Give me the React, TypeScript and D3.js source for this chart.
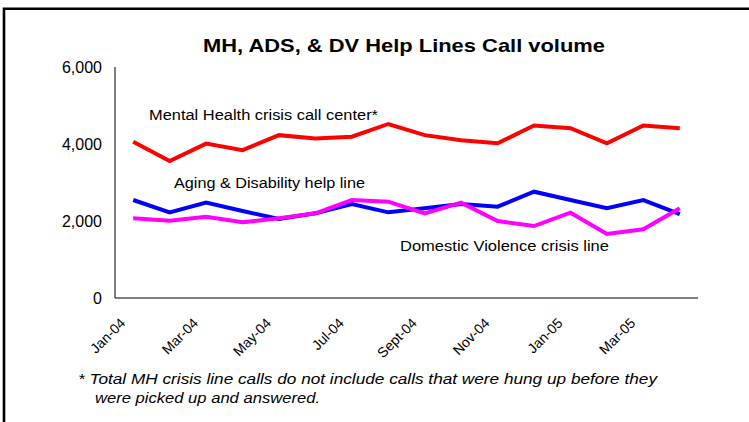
import React from "react";
import * as d3 from "d3";

const months = ["Jan-04","Feb-04","Mar-04","Apr-04","May-04","Jun-04","Jul-04","Aug-04","Sept-04","Oct-04","Nov-04","Dec-04","Jan-05","Feb-05","Mar-05","Apr-05"];
const tickLabels = ["Jan-04","Mar-04","May-04","Jul-04","Sept-04","Nov-04","Jan-05","Mar-05"];
const mhValues = [4060,3560,4010,3840,4230,4140,4190,4520,4230,4100,4020,4480,4410,4020,4480,4410];
const adsValues = [2545,2225,2476,2260,2052,2199,2441,2225,2330,2441,2372,2761,2545,2330,2545,2181];
const dvValues = [2069,2008,2112,1965,2069,2199,2545,2502,2199,2476,2000,1870,2216,1662,1784,2329];
const yTicks = [0,2000,4000,6000];

const series = [
  { name: "MH", values: mhValues, color: "#FF0000" },
  { name: "ADS", values: adsValues, color: "#0000FF" },
  { name: "DV", values: dvValues, color: "#FF00FF" },
];

const W = 749, H = 422;
const left = 115, right = 698, top = 67, bottom = 298;
const font = "'Liberation Sans', Arial, sans-serif";

export default function App() {
  const x = d3.scaleBand<string>().domain(months).range([left, right]);
  const y = d3.scaleLinear().domain([0, 6000]).range([bottom, top]);
  const line = d3.line<number>()
    .x((_, i) => (x(months[i]) as number) + x.bandwidth() / 2)
    .y((d) => y(d));
  const fmt = d3.format(",");
  const sp = "spacingAndGlyphs";
  return (
    <svg width={W} height={H} style={{ position: "absolute", left: 0, top: 0, background: "#fff" }} fontFamily={font}>
      <rect x={0} y={0} width={W} height={H} fill="#fff" />
      <path d={`M4,${H + 5} L4,8.7 L${W + 5},8.7`} fill="none" stroke="#000" strokeWidth={2.6} />
      <text x={203} y={52} fontSize={18.5} fontWeight="bold" textLength={402} lengthAdjust={sp}>
        MH, ADS, &amp; DV Help Lines Call volume
      </text>
      <line x1={left} y1={top} x2={left} y2={bottom} stroke="#000" strokeWidth={1} />
      <line x1={left} y1={bottom} x2={right} y2={bottom} stroke="#000" strokeWidth={1} />
      {yTicks.map((t) => (
        <text key={t} x={102} y={y(t)} dy="0.35em" textAnchor="end" fontSize={16}>{fmt(t)}</text>
      ))}
      {tickLabels.map((m) => {
        const cx = (x(m) as number) + x.bandwidth() / 2;
        return (
          <text key={m} transform={`translate(${cx - 7},${324}) rotate(-45)`} textAnchor="end" fontSize={14}>{m}</text>
        );
      })}
      {series.map((s) => (
        <path key={s.name} d={line(s.values) as string} fill="none" stroke={s.color} strokeWidth={4} strokeLinejoin="miter" />
      ))}
      <text x={149} y={120} fontSize={15.5} textLength={229} lengthAdjust={sp}>Mental Health crisis call center*</text>
      <text x={174} y={188} fontSize={15.5} textLength={191} lengthAdjust={sp}>Aging &amp; Disability help line</text>
      <text x={400} y={250.5} fontSize={15.5} textLength={209} lengthAdjust={sp}>Domestic Violence crisis line</text>
      <text x={78} y={384} fontSize={14} fontStyle="italic" textLength={579} lengthAdjust={sp}>* Total MH crisis line calls do not include calls that were hung up before they</text>
      <text x={95} y={403} fontSize={14} fontStyle="italic" textLength={225} lengthAdjust={sp}>were picked up and answered.</text>
    </svg>
  );
}
